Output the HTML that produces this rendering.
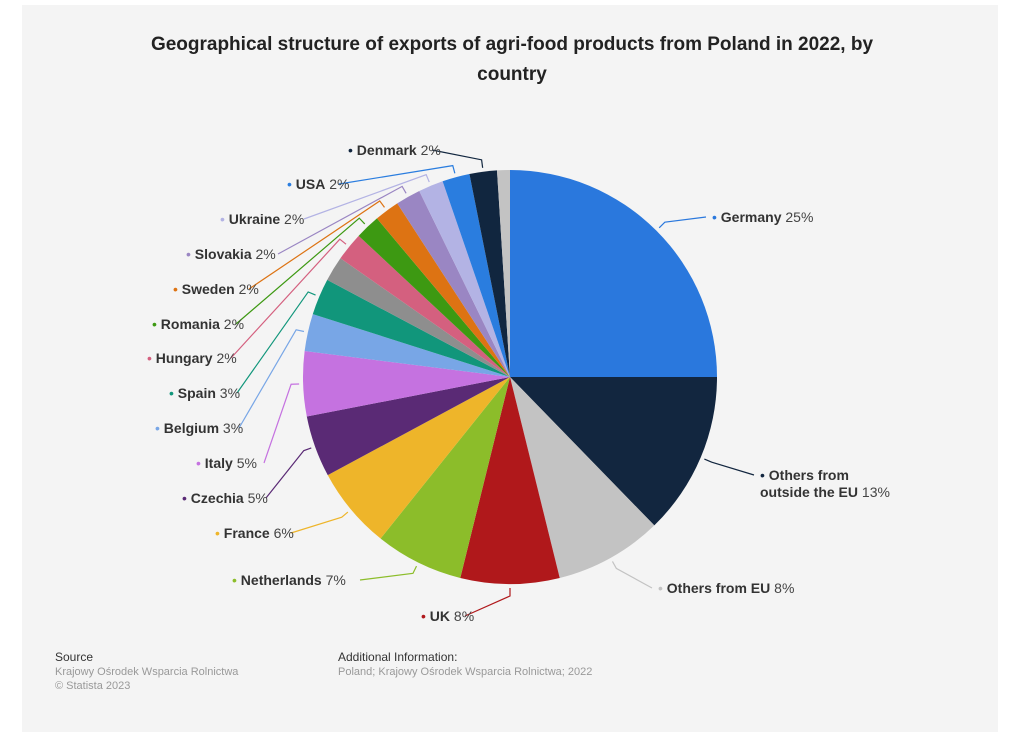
<!DOCTYPE html>
<html><head><meta charset="utf-8"><style>
body{margin:0;width:1024px;height:751px;background:#fff;font-family:"Liberation Sans",sans-serif;position:relative;overflow:hidden}
.card{position:absolute;left:22px;top:5px;width:976px;height:727px;background:#f4f4f4}
.t{position:absolute;left:0;width:1024px;text-align:center;font-weight:bold;font-size:19px;color:#222;top:30px;line-height:30px}
.l{position:absolute;font-size:14px;color:#444;white-space:nowrap;line-height:17px}
.l b{color:#333}
.f{position:absolute;font-size:11px;color:#999;line-height:14px}
.f .h{color:#333;font-size:12px}
</style></head><body>
<div class="card"></div>
<div class="t">Geographical structure of exports of agri-food products from Poland in 2022, by<br>country</div>
<svg id="s" width="1024" height="751" style="position:absolute;left:0;top:0"></svg>
<div id="labs"></div>
<div class="f" style="left:55px;top:650px"><span class="h">Source</span><br>Krajowy Ośrodek Wsparcia Rolnictwa<br>© Statista 2023</div>
<div class="f" style="left:338px;top:650px"><span class="h">Additional Information:</span><br>Poland; Krajowy Ośrodek Wsparcia Rolnictwa; 2022</div>
<script>
var cx=510,cy=377,r=207;
var d=[[0,90,"#2a78dd","Germany","25%",712,209],
[90,135.8,"#12263f","Others from<br>outside the EU","13%",760,467],
[135.8,166.1,"#c3c3c3","Others from EU","8%",658,580],
[166.1,193.9,"#b0181b","UK","8%",421,608],
[193.9,218.7,"#8cbd2a","Netherlands","7%",232,572],
[218.7,241.7,"#eeb52a","France","6%",215,525],
[241.7,259,"#5a2a75","Czechia","5%",182,490],
[259,277.2,"#c572e0","Italy","5%",196,455],
[277.2,287.7,"#78a6e6","Belgium","3%",155,420],
[287.7,298,"#11967b","Spain","3%",169,385],
[298,305,"#8e8e8e",null],
[305,313,"#d4607f","Hungary","2%",147,350],
[313,320,"#3d9912","Romania","2%",152,316],
[320,327,"#dd7313","Sweden","2%",173,281],
[327,334,"#9a86c3","Slovakia","2%",186,246],
[334,341,"#b3b3e4","Ukraine","2%",220,211],
[341,348.7,"#2a7ddf","USA","2%",287,176],
[348.7,356.4,"#11263f","Denmark","2%",348,142],
[356.4,360,"#c3c3c3",null]];
function p(a,rr){a=a*Math.PI/180;return [cx+rr*Math.sin(a),cy-rr*Math.cos(a)];}
var h="",L="";
d.forEach(function(s){
 var a=p(s[0],r),b=p(s[1],r),lg=(s[1]-s[0])>180?1:0;
 h+='<path d="M'+cx+','+cy+'L'+a[0]+','+a[1]+'A'+r+','+r+' 0 '+lg+' 1 '+b[0]+','+b[1]+'Z" fill="'+s[2]+'"/>';
 if(s[3]){
  var m=(s[0]+s[1])/2,e=p(m,r+4),o=p(m,r+12);
  var right=m<180;
  var lx=right? s[5]-6 : s[5]+s[3].length*8+28, ly=s[6]+8;
  if(m>180&&m<215){lx=s[5]+s[3].length*8+40;}
  h+='<path d="M'+e[0]+','+e[1]+'L'+o[0]+','+o[1]+'L'+lx+','+ly+'" fill="none" stroke="'+s[2]+'" stroke-width="1.2"/>';
  L+='<div class="l" style="left:'+s[5]+'px;top:'+s[6]+'px"><span style="color:'+s[2]+'">•</span> <b>'+s[3]+'</b> '+s[4]+'</div>';
 }
});
document.getElementById("s").innerHTML=h;
document.getElementById("labs").innerHTML=L;
</script>
</body></html>
